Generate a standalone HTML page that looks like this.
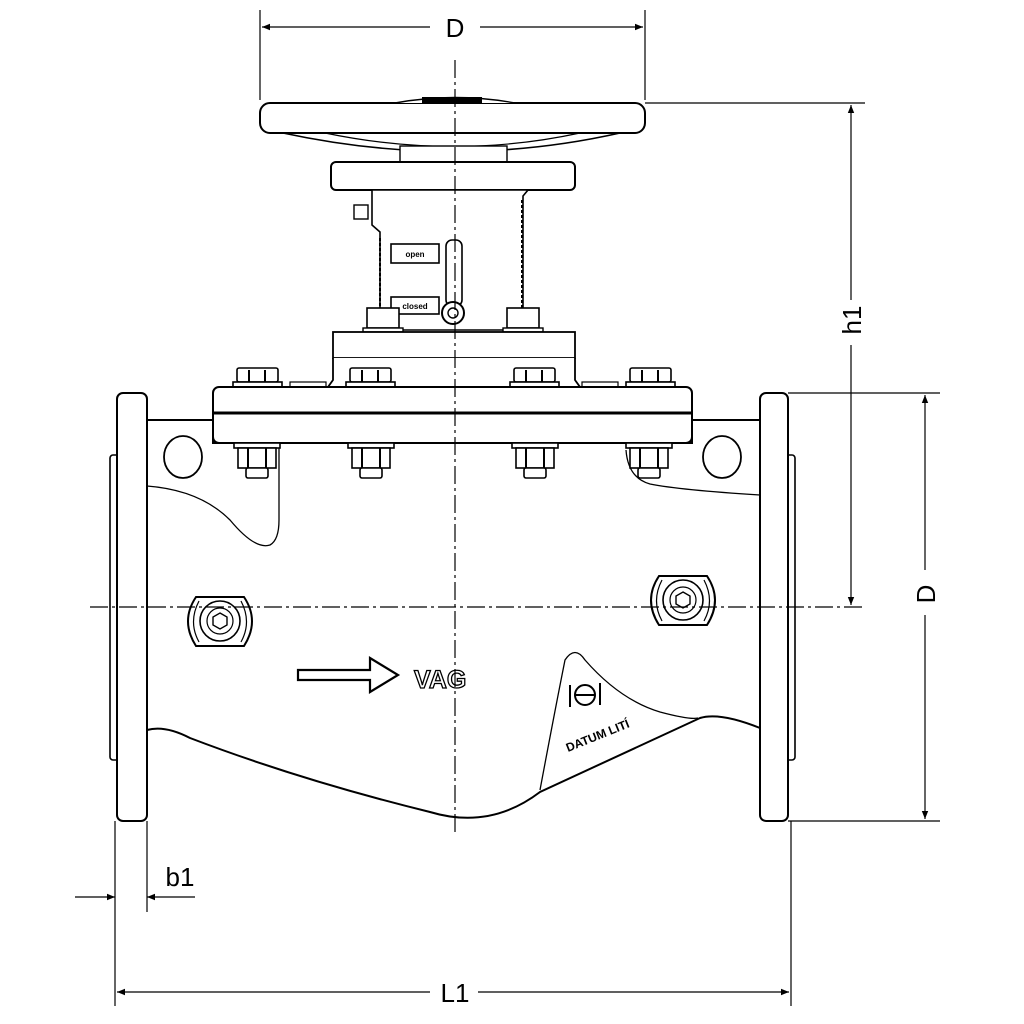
<!DOCTYPE html>
<html><head><style>html,body{margin:0;padding:0;background:#fff}svg{display:block}</style></head>
<body>
<svg width="1024" height="1024" viewBox="0 0 1024 1024" xmlns="http://www.w3.org/2000/svg" font-family="Liberation Sans, sans-serif">
<defs>
<marker id="a" viewBox="0 0 10 10" refX="10" refY="5" markerWidth="12" markerHeight="8" orient="auto-start-reverse" markerUnits="userSpaceOnUse"><path d="M0,1 L10,5 L0,9 z" fill="#000"/></marker>
<g id="boltTop"><rect x="2" y="0" width="41" height="14" rx="2" fill="#fff" stroke="#000" stroke-width="1.6"/><line x1="14" y1="2" x2="14" y2="14" stroke="#000"/><line x1="30" y1="2" x2="30" y2="14" stroke="#000"/><rect x="-2" y="14" width="49" height="5" fill="#fff" stroke="#000" stroke-width="1.6"/></g>
<g id="nut"><rect x="0" y="0" width="46" height="5" fill="#fff" stroke="#000" stroke-width="1.6"/><rect x="4" y="5" width="38" height="20" fill="#fff" stroke="#000" stroke-width="1.6"/><line x1="14" y1="5" x2="14" y2="25" stroke="#000"/><line x1="32" y1="5" x2="32" y2="25" stroke="#000"/><rect x="12" y="25" width="22" height="10" rx="2" fill="#fff" stroke="#000" stroke-width="1.6"/></g>
<g id="plug"><path d="M-24,-24 L24,-24 Q40,0 24,25 L-24,25 Q-40,0 -24,-24z" fill="#fff" stroke="#000" stroke-width="2"/><path d="M-21,-20 Q-32,1 -21,21 M21,-20 Q32,1 21,21" fill="none" stroke="#000" stroke-width="1.2"/><circle cx="0" cy="0" r="20" fill="none" stroke="#000" stroke-width="1.6"/><circle cx="0" cy="0" r="13" fill="none" stroke="#000" stroke-width="1.2"/><polygon points="0,-8 7,-4 7,4 0,8 -7,4 -7,-4" fill="none" stroke="#000" stroke-width="1.4"/></g>
</defs>
<g fill="none" stroke="#000" stroke-width="1.2">
<line x1="260" y1="10" x2="260" y2="100"/><line x1="645" y1="10" x2="645" y2="100"/>
<line x1="262" y1="27" x2="430" y2="27" marker-start="url(#a)"/><line x1="480" y1="27" x2="643" y2="27" marker-end="url(#a)"/>
<line x1="645" y1="103" x2="865" y2="103"/>
<line x1="851" y1="105" x2="851" y2="300" marker-start="url(#a)"/><line x1="851" y1="345" x2="851" y2="605" marker-end="url(#a)"/>
<line x1="788" y1="393" x2="940" y2="393"/><line x1="788" y1="821" x2="940" y2="821"/>
<line x1="925" y1="395" x2="925" y2="570" marker-start="url(#a)"/><line x1="925" y1="615" x2="925" y2="819" marker-end="url(#a)"/>
<line x1="115" y1="821" x2="115" y2="1006"/><line x1="147" y1="821" x2="147" y2="912"/><line x1="791" y1="821" x2="791" y2="1006"/>
<line x1="75" y1="897" x2="115" y2="897" marker-end="url(#a)"/><line x1="195" y1="897" x2="147" y2="897" marker-end="url(#a)"/>
<line x1="117" y1="992" x2="430" y2="992" marker-start="url(#a)"/><line x1="478" y1="992" x2="789" y2="992" marker-end="url(#a)"/>
</g>
<g font-size="26" fill="#000" text-anchor="middle">
<text x="455" y="37">D</text>
<text x="455" y="1002">L1</text>
<text x="180" y="886">b1</text>
<text transform="translate(861,320) rotate(-90)">h1</text>
<text transform="translate(935,594) rotate(-90)">D</text>
</g>
<g stroke="#000" stroke-width="2" fill="#fff">
<path d="M283,133 Q455,170 620,133" stroke-width="1.6"/>
<path d="M325,133 Q455,160 580,133" stroke-width="1.2" fill="none"/>
<rect x="400" y="146" width="107" height="16" stroke-width="1.4"/>
<rect x="260" y="103" width="385" height="30" rx="10"/>
<path d="M395,103 Q455,92 515,103" stroke-width="1.4"/>
<rect x="422" y="97" width="60" height="6" fill="#000" stroke="none"/>
<rect x="331" y="162" width="244" height="28" rx="5"/>
<path d="M372,190 L372,225 L380,232 L380,330 L523,330 L523,196 L528,190 Z" stroke-width="1.6"/>
<line x1="380" y1="238" x2="380" y2="322" stroke-dasharray="3,2"/>
<line x1="522" y1="200" x2="522" y2="322" stroke-dasharray="3,2"/>
<rect x="354" y="205" width="14" height="14" stroke-width="1.4"/>
<rect x="391" y="244" width="48" height="19" stroke-width="1.6"/>
<rect x="391" y="297" width="48" height="17" stroke-width="1.6"/>
<rect x="446" y="240" width="16" height="66" rx="6" stroke-width="1.6"/>
<circle cx="453" cy="313" r="11" stroke-width="2"/><circle cx="453" cy="313" r="5" stroke-width="1.4"/>
<rect x="367" y="308" width="32" height="20" stroke-width="1.6"/><rect x="363" y="328" width="40" height="4" stroke-width="1.4"/>
<rect x="507" y="308" width="32" height="20" stroke-width="1.6"/><rect x="503" y="328" width="40" height="4" stroke-width="1.4"/>
<rect x="333" y="332" width="242" height="26" stroke-width="1.8"/>
<path d="M333,358 L333,380 L328,387 L580,387 L575,380 L575,358" stroke-width="1.8"/>
<use href="#boltTop" x="235" y="368"/><use href="#boltTop" x="348" y="368"/><use href="#boltTop" x="512" y="368"/><use href="#boltTop" x="628" y="368"/>
<rect x="290" y="382" width="36" height="5" stroke-width="1.2"/><rect x="582" y="382" width="36" height="5" stroke-width="1.2"/>
</g>
<g font-size="8" font-weight="bold" fill="#000" text-anchor="middle"><text x="415" y="257">open</text><text x="415" y="309">closed</text></g>
<g stroke="#000" stroke-width="2" fill="#fff">
<path d="M147,420 L213,420 L213,443 L692,443 L692,420 L760,420 L760,728 Q720,712 700,718 L540,792 Q490,830 430,812 Q300,780 190,738 Q165,725 147,730 Z"/>
<rect x="110" y="455" width="10" height="305" rx="3" stroke-width="1.6"/>
<rect x="785" y="455" width="10" height="305" rx="3" stroke-width="1.6"/>
<rect x="117" y="393" width="30" height="428" rx="6"/>
<rect x="760" y="393" width="28" height="428" rx="6"/>
<rect x="213" y="387" width="479" height="56" rx="6" stroke-width="2"/>
<line x1="213" y1="413" x2="692" y2="413" stroke-width="3"/>
<use href="#nut" x="234" y="443"/><use href="#nut" x="348" y="443"/><use href="#nut" x="512" y="443"/><use href="#nut" x="626" y="443"/>
<ellipse cx="183" cy="457" rx="19" ry="21" stroke-width="1.8"/>
<ellipse cx="722" cy="457" rx="19" ry="21" stroke-width="1.8"/>
</g>
<g fill="none" stroke="#000" stroke-width="1.3">
<path d="M147,486 Q200,490 230,520 Q255,550 270,545 Q279,540 279,520 L279,448"/>
<path d="M626,450 Q628,478 650,484 Q680,490 760,495"/>
<path d="M540,790 Q555,710 565,660 Q575,645 585,660 Q620,700 660,712 Q690,720 698,718"/>
</g>
<use href="#plug" x="220" y="621"/><use href="#plug" x="683" y="600"/>
<path d="M298,670 L370,670 L370,658 L398,675 L370,692 L370,680 L298,680 Z" fill="#fff" stroke="#000" stroke-width="2.2"/>
<text x="414" y="688" font-size="25" font-weight="bold" fill="#fff" stroke="#000" stroke-width="1.3">VAG</text>
<g stroke="#000" stroke-width="2" fill="none"><circle cx="585" cy="695" r="10"/><line x1="575" y1="695" x2="595" y2="695"/><line x1="570" y1="685" x2="570" y2="707"/><line x1="600" y1="683" x2="600" y2="705"/></g>
<text transform="translate(568,752) rotate(-22)" font-size="12" font-weight="bold" fill="#000">DATUM LITÍ</text>
<g fill="none" stroke="#000" stroke-width="1.2">
<line x1="455" y1="60" x2="455" y2="832" stroke-dasharray="18,4,3,4"/>
<line x1="90" y1="607" x2="865" y2="607" stroke-dasharray="18,4,3,4"/>
</g>
</svg>
</body></html>
